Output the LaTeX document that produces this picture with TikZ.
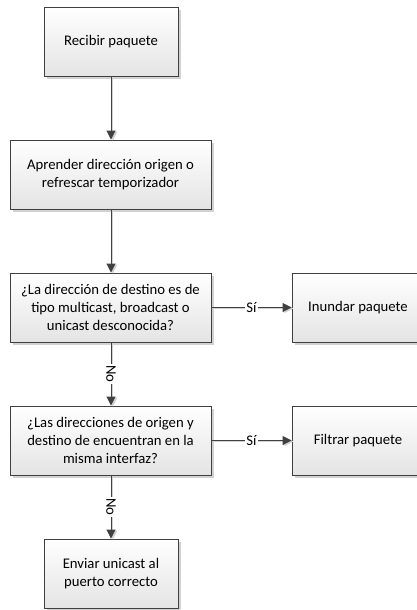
\documentclass[tikz,border=0pt]{standalone}
\usepackage{fontspec}
\setmainfont{Carlito}
\usetikzlibrary{arrows.meta,shadows}
\definecolor{edgegray}{HTML}{404040}
\definecolor{boxtop}{HTML}{FFFFFF}
\definecolor{boxbot}{HTML}{E4E4E4}
\definecolor{shadegray}{HTML}{D2D2D2}
\tikzset{
  proc/.style={draw=edgegray, line width=0.9pt, top color=boxtop, bottom color=boxbot,
    align=center, font=\fontsize{14.7}{18}\selectfont, inner sep=0pt,
    minimum height=69pt,
    drop shadow={shadow xshift=3pt, shadow yshift=-3pt, fill=shadegray, opacity=1}},
  flow/.style={draw=edgegray, line width=0.9pt,
    -{Triangle[length=9pt,width=9pt]},
    preaction={draw=shadegray, line width=1.2pt, transform canvas={shift={(1.8pt,-1pt)}},
      -{Triangle[length=9pt,width=9pt]}}},
  lbl/.style={fill=white, inner sep=1pt, font=\fontsize{14.7}{18}\selectfont}
}
\begin{document}
\begin{tikzpicture}[x=1pt,y=-1pt]
  \useasboundingbox (0,0) rectangle (417,610);

  \node[proc, minimum width=134pt] (recv)  at (111,41.5)   {Recibir paquete};
  \node[proc, minimum width=201pt] (learn) at (110.5,174.5) {Aprender dirección origen o\\refrescar temporizador};
  \node[proc, minimum width=201pt] (dest)  at (110.5,307.5) {¿La dirección de destino es de\\tipo multicast, broadcast o\\unicast desconocida?};
  \node[proc, minimum width=201pt] (same)  at (110.5,440.5) {¿Las direcciones de origen y\\destino de encuentran en la\\misma interfaz?};
  \node[proc, minimum width=134pt] (send)  at (111,573.5)   {Enviar unicast al\\puerto correcto};
  \node[proc, minimum width=132pt] (flood) at (358,307.5)   {Inundar paquete};
  \node[proc, minimum width=132pt] (drop)  at (358,440.5)   {Filtrar paquete};

  \draw[flow] (recv.south) -- (recv.south |- learn.north);
  \draw[flow] (recv.south |- learn.south) -- (recv.south |- dest.north);
  \draw[flow] (recv.south |- dest.south) -- node[lbl, rotate=-90] {No} (recv.south |- same.north);
  \draw[flow] (recv.south |- same.south) -- node[lbl, rotate=-90] {No} (send.north);
  \draw[flow] (dest.east) -- node[lbl] {Sí} (flood.west);
  \draw[flow] (same.east) -- node[lbl] {Sí} (drop.west);
\end{tikzpicture}
\end{document}
